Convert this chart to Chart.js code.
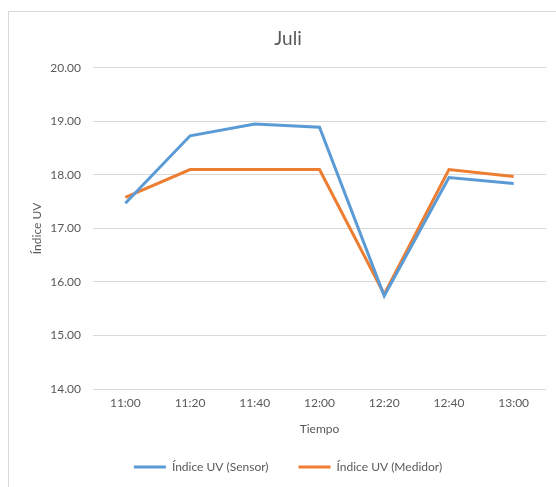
<!DOCTYPE html>
<html>
<head>
<meta charset="utf-8">
<script src="https://cdn.jsdelivr.net/npm/chart.js@4.4.0/dist/chart.umd.min.js"></script>
<style>
  html, body { margin: 0; padding: 0; background: #fff; overflow: hidden; }
  #frame { position: absolute; left: 8px; top: 11px; width: 600px; height: 600px; border: 1px solid #d9d9d9; }
  #wrap { position: absolute; left: 0; top: 0; width: 556px; height: 487px; }
</style>
</head>
<body>
<div id="frame"></div>
<div id="wrap"><canvas id="stage" width="556" height="487"></canvas></div>
<script>
// datos
const tiempos = ['11:00', '11:20', '11:40', '12:00', '12:20', '12:40', '13:00'];
const uvSensor = [17.47, 18.73, 18.95, 18.89, 15.74, 17.95, 17.84];
const uvMedidor = [17.58, 18.10, 18.10, 18.10, 15.77, 18.10, 17.97];
const yTicks = [14, 15, 16, 17, 18, 19, 20];

const gris = '#595959';
const fuente = "Lato, 'Open Sans', sans-serif";

const canvas = document.getElementById('stage');

const data = {
    labels: tiempos,
    datasets: [
        {
            label: 'Índice UV (Sensor)',
            data: uvSensor,
            borderColor: '#5b9bd5',
            backgroundColor: '#5b9bd5',
            borderWidth: 3,
            pointRadius: 0,
            tension: 0
        },
        {
            label: 'Índice UV (Medidor)',
            data: uvMedidor,
            borderColor: '#ed7d31',
            backgroundColor: '#ed7d31',
            borderWidth: 3,
            pointRadius: 0,
            tension: 0
        }
    ]
};

const options = {
    responsive: false,
    animation: false,
    layout: { padding: { left: 30, right: 10, top: 0, bottom: 4 } },
    plugins: {
        title: {
            display: true,
            text: 'Juli',
            color: gris,
            font: { family: fuente, size: 19, weight: 'normal' },
            padding: { top: 27, bottom: 18 }
        },
        legend: {
            position: 'bottom',
            labels: {
                color: gris,
                font: { family: fuente, size: 12 },
                usePointStyle: true,
                pointStyle: 'line',
                pointStyleWidth: 32,
                padding: 30
            }
        },
        tooltip: { enabled: false }
    },
    scales: {
        x: {
            offset: true,
            grid: { display: false, drawTicks: false },
            border: { display: false },
            ticks: { color: gris, font: { family: fuente, size: 12 }, padding: 7, maxRotation: 0 },
            title: { display: true, text: 'Tiempo', color: gris, font: { family: fuente, size: 12 }, padding: { top: 0, bottom: -5 } },
            afterFit: (s) => { s.height = 42; }
        },
        y: {
            min: 14,
            max: 20,
            afterBuildTicks: (s) => { s.ticks = yTicks.map(v => ({ value: v })); },
            grid: { color: '#d9d9d9', drawTicks: false },
            border: { display: false },
            ticks: {
                color: gris,
                font: { family: fuente, size: 12 },
                padding: 12,
                callback: (v) => Number(v).toFixed(2)
            },
            title: { display: true, text: 'Índice UV', color: gris, font: { family: fuente, size: 12 }, padding: { top: 0, bottom: 4 } },
            afterFit: (s) => { s.width = 63; }
        }
    }
};

const chart = new Chart(canvas, { type: 'line', data: data, options: options });
</script>
</body>
</html>
